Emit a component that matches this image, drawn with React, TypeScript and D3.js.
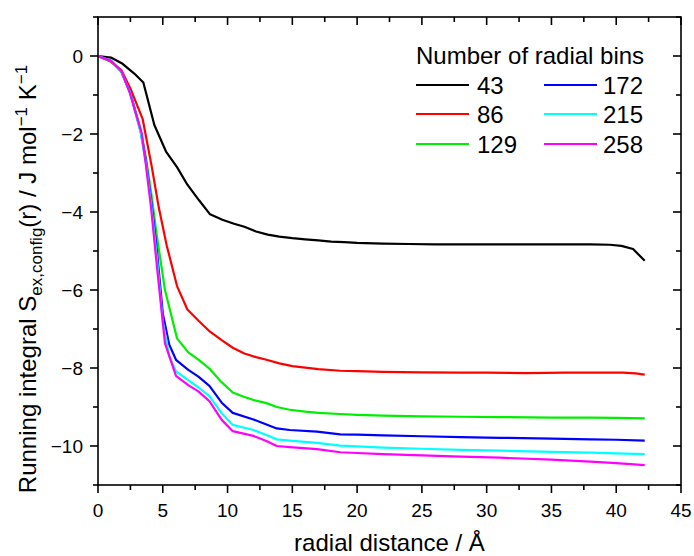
import React from "react";
import * as d3 from "d3";

const W = 694;
const H = 556;
const margin = { left: 98, right: 13, top: 17, bottom: 71 };

const binLabels = ["43", "86", "129", "172", "215", "258"];
const colors = ["#000000", "#ff0000", "#00ee00", "#0000ff", "#00ffff", "#ff00ff"];

const s43: [number, number][] = [
  [0, 0], [1, -0.04], [1.9, -0.2], [2.8, -0.45], [3.5, -0.68], [4.35, -1.77], [5.25, -2.45],
  [6.1, -2.85], [6.9, -3.3], [7.8, -3.7], [8.65, -4.06], [9.6, -4.2], [10.5, -4.3], [11.3, -4.38],
  [12.2, -4.5], [13.1, -4.58], [14, -4.63], [15, -4.67], [16, -4.7], [17, -4.73], [18, -4.76],
  [19, -4.77], [20, -4.79], [22, -4.81], [24, -4.82], [26, -4.83], [28, -4.83], [30, -4.83],
  [32, -4.83], [34, -4.83], [36, -4.83], [38, -4.83], [39.5, -4.84], [40.4, -4.87], [41.3, -4.95],
  [42.2, -5.25],
];
const s86: [number, number][] = [
  [0, 0], [1, -0.15], [1.8, -0.36], [2.5, -0.83], [3.45, -1.62], [4.15, -2.84], [4.7, -3.9],
  [5.3, -4.85], [6.1, -5.9], [6.9, -6.5], [7.8, -6.8], [8.65, -7.07], [9.6, -7.3], [10.4, -7.48],
  [11.3, -7.63], [12.2, -7.72], [13, -7.79], [14, -7.88], [15, -7.95], [16, -7.99], [17, -8.03],
  [18.7, -8.07], [20, -8.08], [22, -8.1], [25, -8.11], [28, -8.12], [30, -8.12], [33, -8.13],
  [36, -8.12], [39, -8.12], [40.5, -8.12], [41.5, -8.14], [42.2, -8.17],
];
const s129: [number, number][] = [
  [0, 0], [1, -0.13], [1.8, -0.4], [2.5, -0.95], [3.3, -1.9], [3.7, -2.6], [4.1, -3.5],
  [4.55, -4.63], [5.17, -6.0], [6.1, -7.24], [6.97, -7.6], [7.8, -7.8], [8.65, -8.03],
  [9.5, -8.35], [10.4, -8.63], [11.2, -8.73], [12, -8.82], [13, -8.9], [13.8, -9.0],
  [14.8, -9.07], [16, -9.12], [17, -9.15], [18.7, -9.18], [20, -9.2], [22, -9.22], [25, -9.24],
  [28, -9.25], [31, -9.26], [35, -9.27], [38, -9.27], [40, -9.28], [42.2, -9.29],
];
const s172: [number, number][] = [
  [0, 0], [1, -0.12], [1.8, -0.4], [2.5, -0.95], [3.3, -1.95], [3.7, -2.7], [4.1, -3.7],
  [4.55, -5.0], [5.0, -6.6], [5.5, -7.4], [6.02, -7.79], [6.97, -8.05], [7.75, -8.22],
  [8.6, -8.46], [9.55, -8.89], [10.4, -9.15], [12, -9.32], [13, -9.45], [13.8, -9.55],
  [14.8, -9.59], [16.9, -9.63], [18.7, -9.7], [20, -9.71], [22, -9.73], [25, -9.75],
  [28, -9.77], [31, -9.79], [35, -9.81], [38, -9.83], [40, -9.84], [42.2, -9.86],
];
const s215: [number, number][] = [
  [0, 0], [1, -0.12], [1.8, -0.4], [2.5, -0.96], [3.3, -1.97], [3.7, -2.75], [4.1, -3.8],
  [4.55, -5.2], [5.0, -6.8], [5.5, -7.7], [6.02, -8.09], [6.97, -8.31], [7.75, -8.5],
  [8.6, -8.72], [9.55, -9.16], [10.4, -9.46], [12, -9.59], [13, -9.72], [13.8, -9.83],
  [14.8, -9.86], [16.9, -9.92], [18.7, -9.99], [20, -10.01], [22, -10.04], [25, -10.07],
  [28, -10.1], [31, -10.12], [35, -10.15], [38, -10.17], [40, -10.19], [42.2, -10.21],
];
const s258: [number, number][] = [
  [0, 0], [1, -0.12], [1.83, -0.4], [2.47, -0.96], [3.37, -1.98], [3.7, -2.8], [4.1, -3.9],
  [4.55, -5.4], [5.17, -7.37], [6.02, -8.2], [6.97, -8.44], [7.75, -8.6], [8.6, -8.85],
  [9.55, -9.33], [10.4, -9.62], [12, -9.74], [13, -9.87], [13.8, -10.0], [14.8, -10.03],
  [16.9, -10.08], [18.7, -10.16], [20, -10.18], [22, -10.21], [25, -10.24], [28, -10.27],
  [31, -10.3], [35, -10.35], [38, -10.4], [40, -10.44], [42.2, -10.49],
];

const seriesData = [s43, s86, s129, s172, s215, s258];

const xMajor = [0, 5, 10, 15, 20, 25, 30, 35, 40, 45];
const xMinor = [2.5, 7.5, 12.5, 17.5, 22.5, 27.5, 32.5, 37.5, 42.5];
const yMajor = [0, -2, -4, -6, -8, -10];
const yMinor = [1, -1, -3, -5, -7, -9, -11];

const FONT = "'Liberation Sans', Arial, Helvetica, sans-serif";

export default function App() {
  const x = d3.scaleLinear().domain([0, 45]).range([margin.left, W - margin.right]);
  const y = d3.scaleLinear().domain([1, -11]).range([margin.top, H - margin.bottom]);
  const line = d3
    .line<[number, number]>()
    .x((d) => x(d[0]))
    .y((d) => y(d[1]));

  const x0 = x(0), x1 = x(45), yT = y(1), yB = y(-11);
  const MJ = 8, MN = 5;
  const fmt = (v: number) => (v < 0 ? "\u2212" + Math.abs(v) : String(v));

  const legendRows = [85, 114, 144];
  const legendCols = [{ l1: 416, l2: 469, t: 477 }, { l1: 544, l2: 597, t: 603 }];

  return (
    <svg width={W} height={H} style={{ display: "block", position: "absolute", left: 0, top: 0 }} fontFamily={FONT}>
      <rect x={0} y={0} width={W} height={H} fill="#fff" />
      <defs>
        <clipPath id="plotclip">
          <rect x={x0} y={yT} width={x1 - x0} height={yB - yT} />
        </clipPath>
      </defs>
      <g clipPath="url(#plotclip)">
        {seriesData.map((s, i) => (
          <path key={i} d={line(s) || ""} fill="none" stroke={colors[i]} strokeWidth={2.2} strokeLinejoin="round" />
        ))}
      </g>
      <rect x={x0} y={yT} width={x1 - x0} height={yB - yT} fill="none" stroke="#000" strokeWidth={1.6} />
      {xMajor.map((v) => (
        <g key={"xm" + v}>
          <line x1={x(v)} x2={x(v)} y1={yB} y2={yB + MJ} stroke="#000" strokeWidth={1.6} />
          <line x1={x(v)} x2={x(v)} y1={yT} y2={yT + MJ} stroke="#000" strokeWidth={1.6} />
          <text x={x(v)} y={yB + 32} textAnchor="middle" fontSize={19}>{fmt(v)}</text>
        </g>
      ))}
      {xMinor.map((v) => (
        <g key={"xn" + v}>
          <line x1={x(v)} x2={x(v)} y1={yB} y2={yB + MN} stroke="#000" strokeWidth={1.6} />
          <line x1={x(v)} x2={x(v)} y1={yT} y2={yT + MN} stroke="#000" strokeWidth={1.6} />
        </g>
      ))}
      {yMajor.map((v) => (
        <g key={"ym" + v}>
          <line x1={x0 - MJ} x2={x0} y1={y(v)} y2={y(v)} stroke="#000" strokeWidth={1.6} />
          <line x1={x1 - MJ} x2={x1} y1={y(v)} y2={y(v)} stroke="#000" strokeWidth={1.6} />
          <text x={x0 - 15} y={y(v)} textAnchor="end" dominantBaseline="central" fontSize={19}>{fmt(v)}</text>
        </g>
      ))}
      {yMinor.map((v) => (
        <g key={"yn" + v}>
          <line x1={x0 - MN} x2={x0} y1={y(v)} y2={y(v)} stroke="#000" strokeWidth={1.6} />
          <line x1={x1 - MN} x2={x1} y1={y(v)} y2={y(v)} stroke="#000" strokeWidth={1.6} />
        </g>
      ))}
      <text x={(x0 + x1) / 2} y={551} textAnchor="middle" fontSize={24}>radial distance / Å</text>
      <text transform={`translate(36, ${(yT + yB) / 2 + 28}) rotate(-90)`} textAnchor="middle" fontSize={24}>
        Running integral S
        <tspan fontSize={17} dy={6}>ex,config</tspan>
        <tspan dy={-6}>(r) / J mol</tspan>
        <tspan fontSize={17} dy={-9}>−1</tspan>
        <tspan dy={9}> K</tspan>
        <tspan fontSize={17} dy={-9}>−1</tspan>
      </text>
      <text x={416} y={64} fontSize={24}>Number of radial bins</text>
      {binLabels.map((lab, i) => {
        const col = legendCols[Math.floor(i / 3)];
        const ry = legendRows[i % 3];
        return (
          <g key={lab}>
            <line x1={col.l1} x2={col.l2} y1={ry} y2={ry} stroke={colors[i]} strokeWidth={2.2} />
            <text x={col.t} y={ry} dominantBaseline="central" fontSize={24}>{lab}</text>
          </g>
        );
      })}
    </svg>
  );
}
